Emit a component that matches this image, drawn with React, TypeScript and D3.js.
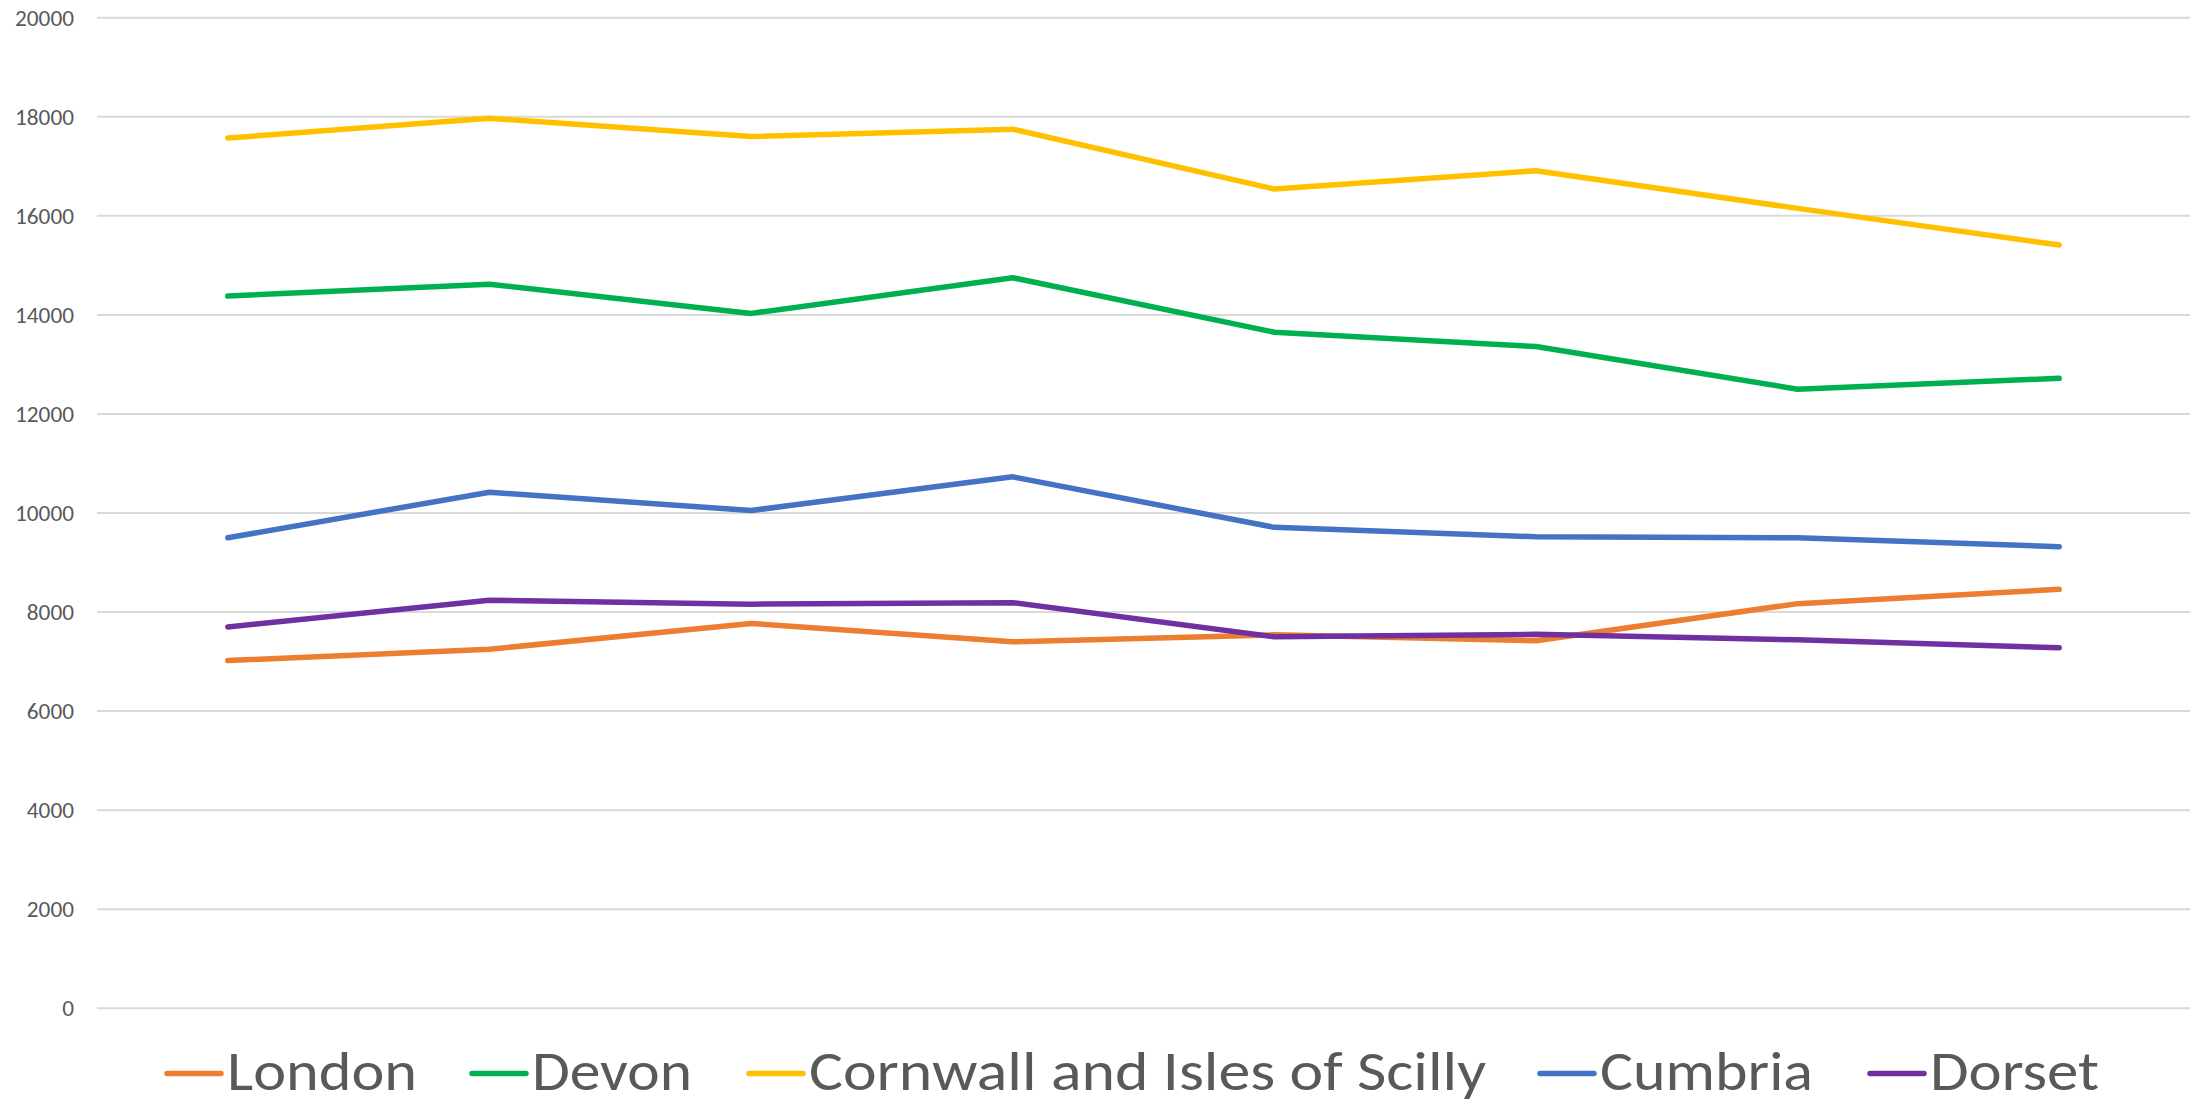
import React from 'react';
import * as d3 from 'd3';

const categories = ['1', '2', '3', '4', '5', '6', '7', '8'];
const yTicks = [0, 2000, 4000, 6000, 8000, 10000, 12000, 14000, 16000, 18000, 20000];

const london = [7020, 7250, 7770, 7400, 7540, 7420, 8170, 8460];
const devon = [14380, 14620, 14030, 14750, 13650, 13360, 12500, 12720];
const cornwall = [17570, 17970, 17600, 17750, 16540, 16910, 16150, 15410];
const cumbria = [9500, 10420, 10050, 10730, 9710, 9520, 9500, 9320];
const dorset = [7700, 8240, 8160, 8190, 7500, 7550, 7440, 7280];

const seriesNames = ['London', 'Devon', 'Cornwall and Isles of Scilly', 'Cumbria', 'Dorset'];
const seriesValues = [london, devon, cornwall, cumbria, dorset];
const colors = ['#ED7D31', '#00B050', '#FFC000', '#4472C4', '#7030A0'];

// legend layout
const legendX = [167, 472, 749, 1540, 1870];
const legendTextWidth = [190, 160, 677, 213, 169];

const W = 2194;
const H = 1104;

const App = () => {
  // plot area
  const left = 97;
  const right = 2190;
  const top = 17.7;
  const bottom = 1008.3;

  const x = d3.scaleBand<string>().domain(categories).range([left, right]);
  const y = d3.scaleLinear().domain([0, 20000]).range([bottom, top]);

  const line = d3
    .line<number>()
    .x((_, i) => (x(categories[i]) as number) + x.bandwidth() / 2)
    .y((d) => y(d));

  const font = "Calibri, Carlito, Lato, 'Open Sans', sans-serif";

  return (
    <svg
      width={W}
      height={H}
      style={{ position: 'absolute', left: 0, top: 0, background: '#fff' }}
    >
      {/* gridlines + y labels */}
      {yTicks.map((t) => (
        <g key={t}>
          <line x1={left} x2={right} y1={y(t)} y2={y(t)} stroke="#D9D9D9" strokeWidth={2} />
          <text
            x={74}
            y={y(t)}
            dy="0.36em"
            textAnchor="end"
            fontFamily={font}
            fontSize={22}
            fill="#595959"
            textLength={String(t).length * 11.8}
            lengthAdjust="spacingAndGlyphs"
          >
            {t}
          </text>
        </g>
      ))}

      {/* series lines */}
      {seriesValues.map((vals, i) => (
        <path
          key={seriesNames[i]}
          d={line(vals) as string}
          fill="none"
          stroke={colors[i]}
          strokeWidth={5.5}
          strokeLinejoin="round"
          strokeLinecap="round"
        />
      ))}

      {/* legend */}
      {seriesNames.map((name, i) => (
        <g key={name}>
          <line
            x1={legendX[i]}
            x2={legendX[i] + 54}
            y1={1073.5}
            y2={1073.5}
            stroke={colors[i]}
            strokeWidth={5.5}
            strokeLinecap="round"
          />
          <text
            x={legendX[i] + 60}
            y={1090}
            fontFamily={font}
            fontSize={56}
            fill="#595959"
            textLength={legendTextWidth[i]}
            lengthAdjust="spacingAndGlyphs"
          >
            {name}
          </text>
        </g>
      ))}
    </svg>
  );
};

export default App;
